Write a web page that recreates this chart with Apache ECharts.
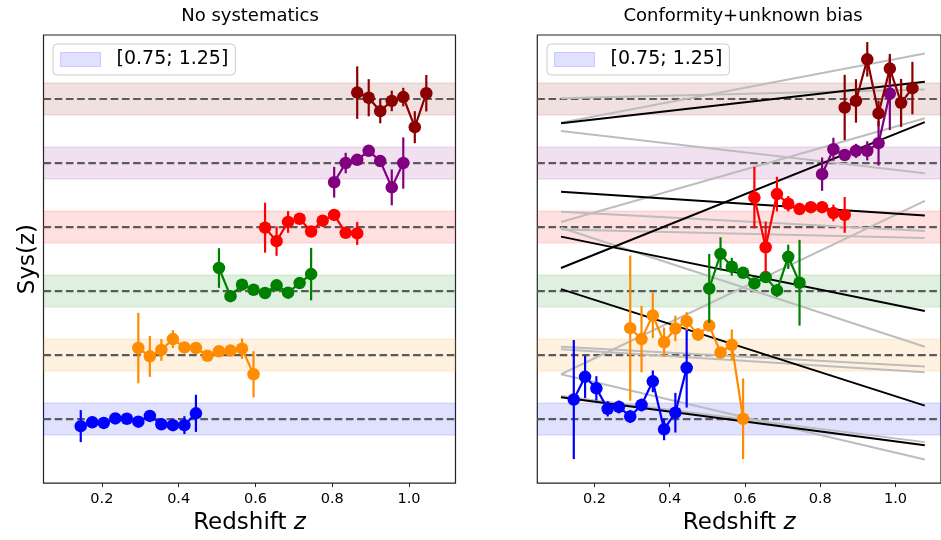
<!DOCTYPE html>
<html>
<head>
<meta charset="utf-8">
<script src="https://cdn.jsdelivr.net/npm/echarts@6/dist/echarts.min.js"></script>
<style>
  html, body { margin: 0; padding: 0; background: #ffffff; }
  #chart { width: 941px; height: 540px; }
</style>
</head>
<body>
<div id="chart"></div>
<script>
// ---- tick labels and reference bands ----
const xTicks = [0.2, 0.4, 0.6, 0.8, 1.0];
const bandCenters = [1, 2, 3, 4, 5, 6];
const bandHalfWidth = 0.25;
const bandLabel = '[0.75; 1.25]';

// ---- redshift bins of each tracer ----
const zBlue    = [0.145, 0.175, 0.205, 0.235, 0.265, 0.295, 0.325, 0.355, 0.385, 0.415, 0.445];
const zOrange  = [0.295, 0.325, 0.355, 0.385, 0.415, 0.445, 0.475, 0.505, 0.535, 0.565, 0.595];
const zGreen   = [0.505, 0.535, 0.565, 0.595, 0.625, 0.655, 0.685, 0.715, 0.745];
const zRed     = [0.625, 0.655, 0.685, 0.715, 0.745, 0.775, 0.805, 0.835, 0.865];
const zPurple  = [0.805, 0.835, 0.865, 0.895, 0.925, 0.955, 0.985];
const zDarkred = [0.865, 0.895, 0.925, 0.955, 0.985, 1.015, 1.045];

// ---- "No systematics": values and 1-sigma errors ----
const noSysBlue       = [0.89, 0.95, 0.94, 1.01, 1.005, 0.96, 1.05, 0.92, 0.905, 0.905, 1.09];
const noSysBlueErr    = [0.25, 0.09, 0.04, 0.04, 0.04, 0.04, 0.04, 0.04, 0.04, 0.14, 0.29];
const noSysOrange     = [2.11, 1.98, 2.08, 2.25, 2.12, 2.11, 1.99, 2.06, 2.07, 2.10, 1.70];
const noSysOrangeErr  = [0.55, 0.32, 0.17, 0.14, 0.05, 0.05, 0.05, 0.05, 0.05, 0.16, 0.36];
const noSysGreen      = [3.36, 2.92, 3.10, 3.02, 2.97, 3.09, 2.975, 3.125, 3.265];
const noSysGreenErr   = [0.31, 0.09, 0.05, 0.05, 0.05, 0.05, 0.05, 0.07, 0.41];
const noSysRed        = [3.99, 3.78, 4.08, 4.13, 3.93, 4.10, 4.19, 3.91, 3.90];
const noSysRedErr     = [0.39, 0.23, 0.17, 0.05, 0.05, 0.05, 0.05, 0.05, 0.18];
const noSysPurple     = [4.70, 5.00, 5.05, 5.19, 5.03, 4.62, 5.00];
const noSysPurpleErr  = [0.24, 0.16, 0.05, 0.05, 0.05, 0.28, 0.40];
const noSysDarkred    = [6.10, 6.02, 5.81, 5.97, 6.03, 5.56, 6.09];
const noSysDarkredErr = [0.41, 0.29, 0.19, 0.16, 0.145, 0.25, 0.285];

// ---- "Conformity+unknown bias": values and 1-sigma errors ----
const confBlue       = [1.305, 1.66, 1.48, 1.16, 1.19, 1.04, 1.22, 1.59, 0.84, 1.10, 1.80];
const confBlueErr    = [0.93, 0.33, 0.19, 0.12, 0.10, 0.10, 0.10, 0.17, 0.17, 0.31, 0.62];
const confOrange     = [2.42, 2.25, 2.62, 2.20, 2.415, 2.53, 2.32, 2.46, 2.04, 2.16, 1.005];
const confOrangeErr  = [1.135, 0.52, 0.355, 0.23, 0.20, 0.14, 0.10, 0.05, 0.08, 0.24, 0.63];
const confGreen      = [3.04, 3.58, 3.38, 3.286, 3.12, 3.218, 3.01, 3.535, 3.13];
const confGreenErr   = [0.54, 0.26, 0.14, 0.05, 0.05, 0.08, 0.10, 0.19, 0.67];
const confRed        = [4.46, 3.685, 4.515, 4.364, 4.28, 4.31, 4.31, 4.22, 4.19];
const confRedErr     = [0.48, 0.40, 0.27, 0.12, 0.05, 0.05, 0.09, 0.13, 0.28];
const confPurple     = [4.826, 5.215, 5.126, 5.19, 5.19, 5.31, 6.085];
const confPurpleErr  = [0.26, 0.18, 0.08, 0.11, 0.15, 0.35, 0.57];
const confDarkred    = [5.868, 5.97, 6.62, 5.775, 6.475, 5.94, 6.17];
const confDarkredErr = [0.51, 0.34, 0.27, 0.20, 0.23, 0.375, 0.41];

// ---- linear bias trends over the redshift range (start, end) ----
const trendZ = [0.111, 1.078];
const blackTrends = [
  [5.62, 6.27], [3.36, 5.64], [4.55, 4.18],
  [3.85, 2.69], [3.03, 1.21], [1.34, 0.59]
];
const greyTrends = [
  [5.63, 6.71], [6.01, 6.15], [5.50, 4.84], [4.08, 5.70],
  [4.24, 3.94], [3.96, 3.83], [3.99, 2.13], [1.70, 4.41],
  [2.13, 1.82], [2.09, 1.73], [1.70, 0.37], [1.36, 0.64]
];

// ---- styling ----
const FONT = 'DejaVu Sans';
const tracerColors = ['#0000ff', '#ff8c00', '#008000', '#ff0000', '#800080', '#8b0000'];
const xMin = 0.048, xMax = 1.121;
const yMin = 0, yMax = 7;

function rgba(hex, a) {
  const n = parseInt(hex.slice(1), 16);
  return 'rgba(' + ((n >> 16) & 255) + ',' + ((n >> 8) & 255) + ',' + (n & 255) + ',' + a + ')';
}

// shaded [0.75; 1.25] bands with dashed unit lines
function bandSeries(idx) {
  return {
    name: bandLabel,
    type: 'custom',
    xAxisIndex: idx, yAxisIndex: idx,
    data: bandCenters.map((c, i) => [(xMin + xMax) / 2, c, i]),
    encode: { x: 0, y: 1 },
    z: 1, silent: true, animation: false, clip: true,
    renderItem: function (params, api) {
      const cs = params.coordSys;
      const c = api.value(1);
      const col = tracerColors[api.value(2)];
      const yTop = api.coord([xMin, c + bandHalfWidth])[1];
      const yBot = api.coord([xMin, c - bandHalfWidth])[1];
      const yMid = api.coord([xMin, c])[1];
      return {
        type: 'group',
        children: [
          { type: 'rect', shape: { x: cs.x, y: yTop, width: cs.width, height: yBot - yTop },
            style: { fill: rgba(col, 0.12), stroke: rgba(col, 0.14), lineWidth: 1 } },
          { type: 'line', shape: { x1: cs.x, y1: yMid, x2: cs.x + cs.width, y2: yMid },
            style: { stroke: '#5a5a5a', lineWidth: 2.2, lineDash: [7.6, 3.6] } }
        ]
      };
    }
  };
}

function errorBars(idx, zs, vs, es, color, z) {
  return {
    type: 'custom',
    xAxisIndex: idx, yAxisIndex: idx,
    data: zs.map((x, i) => [x, vs[i] - es[i], vs[i] + es[i]]),
    encode: { x: 0, y: [1, 2] },
    z: z, silent: true, animation: false,
    renderItem: function (params, api) {
      const lo = api.coord([api.value(0), api.value(1)]);
      const hi = api.coord([api.value(0), api.value(2)]);
      return { type: 'line', shape: { x1: lo[0], y1: lo[1], x2: hi[0], y2: hi[1] },
               style: { stroke: color, lineWidth: 2.2 } };
    }
  };
}

function tracerLine(idx, zs, vs, color, z) {
  return {
    type: 'line',
    xAxisIndex: idx, yAxisIndex: idx,
    data: zs.map((x, i) => [x, vs[i]]),
    symbol: 'circle', symbolSize: 12.5, showSymbol: true,
    lineStyle: { color: color, width: 2.2 },
    itemStyle: { color: color },
    z: z, silent: true, animation: false
  };
}

function trendLine(idx, pair, color, z) {
  return {
    type: 'line',
    xAxisIndex: idx, yAxisIndex: idx,
    data: [[trendZ[0], pair[0]], [trendZ[1], pair[1]]],
    symbol: 'none',
    lineStyle: { color: color, width: 2 },
    z: z, silent: true, animation: false
  };
}

const panels = [
  { vals: [noSysBlue, noSysOrange, noSysGreen, noSysRed, noSysPurple, noSysDarkred],
    errs: [noSysBlueErr, noSysOrangeErr, noSysGreenErr, noSysRedErr, noSysPurpleErr, noSysDarkredErr] },
  { vals: [confBlue, confOrange, confGreen, confRed, confPurple, confDarkred],
    errs: [confBlueErr, confOrangeErr, confGreenErr, confRedErr, confPurpleErr, confDarkredErr] }
];
const zBins = [zBlue, zOrange, zGreen, zRed, zPurple, zDarkred];

const series = [];
panels.forEach((p, idx) => {
  series.push(bandSeries(idx));
  for (let k = 0; k < 6; k++) {
    series.push(errorBars(idx, zBins[k], p.vals[k], p.errs[k], tracerColors[k], 10 + 2 * k));
    series.push(tracerLine(idx, zBins[k], p.vals[k], tracerColors[k], 11 + 2 * k));
  }
});
greyTrends.forEach(g => series.push(trendLine(1, g, '#bdbdbd', 4)));
blackTrends.forEach(b => series.push(trendLine(1, b, '#000000', 5)));

function makeXAxis(idx) {
  return {
    type: 'value', gridIndex: idx, min: xMin, max: xMax,
    name: '{n|Redshift }{i|z}', nameLocation: 'middle', nameGap: 24,
    nameTextStyle: {
      rich: {
        n: { fontFamily: FONT, fontSize: 23, color: '#000' },
        i: { fontFamily: FONT, fontSize: 23, color: '#000', fontStyle: 'italic' }
      }
    },
    axisLine: { show: false },
    axisTick: { show: true, inside: false, length: 4, customValues: xTicks,
                lineStyle: { color: '#222', width: 1 } },
    axisLabel: { show: true, customValues: xTicks, margin: 9,
                 formatter: v => v.toFixed(1),
                 fontFamily: FONT, fontSize: 14.5, color: '#000' },
    splitLine: { show: false }
  };
}

function makeYAxis(idx) {
  const ax = {
    type: 'value', gridIndex: idx, min: yMin, max: yMax,
    axisLine: { show: false }, axisTick: { show: false },
    axisLabel: { show: false }, splitLine: { show: false }
  };
  if (idx === 0) {
    ax.name = 'Sys(z)';
    ax.nameLocation = 'middle';
    ax.nameRotate = 90;
    ax.nameGap = 4;
    ax.nameTextStyle = { fontFamily: FONT, fontSize: 23, color: '#000' };
  }
  return ax;
}

function makeLegend(left) {
  return {
    left: left, top: 44, orient: 'horizontal',
    data: [{ name: bandLabel, icon: 'rect',
             itemStyle: { color: 'rgba(0,0,255,0.12)', borderColor: 'rgba(0,0,255,0.16)', borderWidth: 1 } }],
    itemWidth: 40, itemHeight: 14,
    selectedMode: false,
    backgroundColor: 'rgba(255,255,255,0.8)',
    borderColor: '#cccccc', borderWidth: 1, borderRadius: 4,
    padding: [6, 7, 6, 7],
    textStyle: { fontFamily: FONT, fontSize: 19, color: '#000', padding: [0, 0, 0, 11] }
  };
}

const chart = echarts.init(document.getElementById('chart'), null, { renderer: 'canvas' });
chart.setOption({
  backgroundColor: '#ffffff',
  animation: false,
  title: [
    { text: 'No systematics', left: 250, top: 7, textAlign: 'center', padding: 0,
      textStyle: { fontFamily: FONT, fontSize: 18, fontWeight: 'normal', color: '#000' } },
    { text: 'Conformity+unknown bias', left: 743, top: 7, textAlign: 'center', padding: 0,
      textStyle: { fontFamily: FONT, fontSize: 18, fontWeight: 'normal', color: '#000' } }
  ],
  legend: [makeLegend(53), makeLegend(547)],
  grid: [
    { left: 43.5, top: 35, width: 412, height: 450, show: true,
      borderColor: '#222', borderWidth: 1.2, backgroundColor: 'transparent' },
    { left: 537.3, top: 35, width: 411.5, height: 450, show: true,
      borderColor: '#222', borderWidth: 1.2, backgroundColor: 'transparent' }
  ],
  xAxis: [makeXAxis(0), makeXAxis(1)],
  yAxis: [makeYAxis(0), makeYAxis(1)],
  series: series
});
</script>
</body>
</html>
